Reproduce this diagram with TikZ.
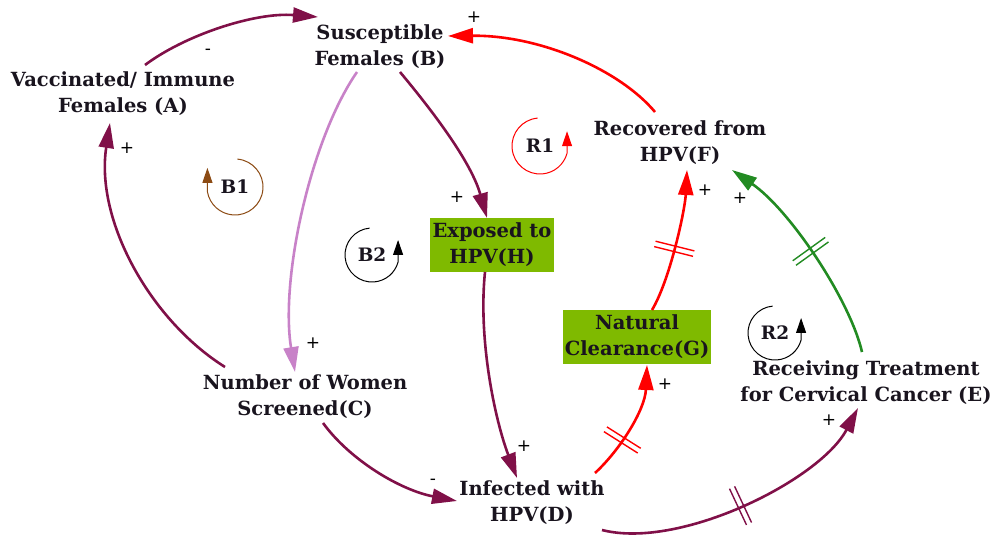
\documentclass[tikz,border=0pt]{standalone}
\usepackage{fontspec}
\setmainfont{DejaVu Serif}
\newfontfamily\plusfont{DejaVu Sans}
\usetikzlibrary{arrows.meta,decorations.markings}
\definecolor{maroon}{RGB}{128,16,72}
\definecolor{lilac}{RGB}{200,130,200}
\definecolor{redc}{RGB}{255,0,0}
\definecolor{greenc}{RGB}{34,139,34}
\definecolor{boxgreen}{RGB}{127,186,0}
\definecolor{brownc}{RGB}{140,75,20}
\definecolor{textc}{RGB}{25,20,30}
\begin{document}
\begin{tikzpicture}[x=1pt,y=1pt,
  var/.style={align=center, text=textc, font=\bfseries\fontsize{19.5}{26}\selectfont, inner sep=0pt},
  box/.style={var, fill=boxgreen, minimum height=54pt},
  pol/.style={font=\plusfont\fontsize{17}{17}\selectfont, inner sep=0pt},
  looplbl/.style={text=textc, font=\bfseries\fontsize{18.5}{18.5}\selectfont, inner sep=0pt},
  conn/.style={line width=2.6pt, -{Triangle[length=25pt,width=15pt]}},
  loopar/.style={line width=1pt, -{Triangle[length=15pt,width=10pt]}},
  hatch/.style 2 args={postaction={decorate,decoration={markings,
     mark=at position #1 with {\draw[-,#2,line width=1.4pt] (-2.8pt,-20pt)--(-2.8pt,20pt) (2.8pt,-20pt)--(2.8pt,20pt);}}}}
]
\useasboundingbox (0,0) rectangle (990,-540);

% variables
\node[var] (A) at (123,-94) {Vaccinated/ Immune\\Females (A)};
\node[var] (B) at (380,-47) {Susceptible\\Females (B)};
\node[var] (C) at (305,-397) {Number of Women\\Screened(C)};
\node[var] (D) at (532,-503) {Infected with\\HPV(D)};
\node[var] (E) at (866,-383) {Receiving Treatment\\for Cervical Cancer (E)};
\node[var] (F) at (680,-143) {Recovered from\\HPV(F)};
\node[box, minimum width=124pt] (H) at (492,-245) {Exposed to\\HPV(H)};
\node[box, minimum width=148pt] (G) at (637,-337) {Natural\\Clearance(G)};

% connectors
\draw[conn, maroon] ([shift={(22,29)}]A.center) .. controls (185,-35) and (255,-12) .. ([shift={(-62,30)}]B.center);
\draw[conn, redc] ([shift={(-25,31)}]F.center) .. controls (620,-70) and (540,-35) .. ([shift={(68,11)}]B.center);
\draw[conn, maroon] ([shift={(20,-25)}]B.center) .. controls (440,-120) and (472,-165) .. ([shift={(-5,27)}]H.center);
\draw[conn, lilac] ([shift={(-23,-25)}]B.center) .. controls (310,-140) and (280,-280) .. ([shift={(-10,25)}]C.center);
\draw[conn, maroon] ([shift={(-80,30)}]C.center) .. controls (150,-320) and (95,-220) .. ([shift={(-13,-29)}]A.center);
\draw[conn, maroon] ([shift={(-7,-27)}]H.center) .. controls (478,-340) and (495,-420) .. ([shift={(-15,25)}]D.center);
\draw[conn, maroon] ([shift={(18,-26)}]C.center) .. controls (350,-460) and (400,-490) .. ([shift={(-75,2)}]D.center);
\draw[conn, redc, hatch={0.35}{redc}] ([shift={(63,30)}]D.center) .. controls (620,-450) and (645,-410) .. ([shift={(10,-28)}]G.center);
\draw[conn, redc, hatch={0.45}{redc}] ([shift={(15,27)}]G.center) .. controls (670,-280) and (685,-210) .. ([shift={(7,-27)}]F.center);
\draw[conn, greenc, hatch={0.5}{greenc}] ([shift={(-4,31)}]E.center) .. controls (850,-300) and (790,-210) .. ([shift={(52,-27)}]F.center);
\draw[conn, maroon, hatch={0.48}{maroon}] ([shift={(70,-27)}]D.center) .. controls (680,-550) and (820,-480) .. ([shift={(-8,-25)}]E.center);

% polarities
\node[pol] (p1) at (208,-52) {-};
\node[pol] (p2) at (474,-17) {+};
\node[pol] (p3) at (457,-197) {+};
\node[pol] (p4) at (313,-343) {+};
\node[pol] (p5) at (127,-148) {+};
\node[pol] (p6) at (524,-446) {+};
\node[pol] (p7) at (433,-482) {-};
\node[pol] (p8) at (665,-384) {+};
\node[pol] (p9) at (705,-190) {+};
\node[pol] (p10) at (740,-198) {+};
\node[pol] (p11) at (829,-420) {+};

% loops
\node[looplbl] (B1) at (235,-187) {B1};
\draw[loopar, brownc] ([shift={(85:28)}]B1.center) arc[start angle=85, end angle=-170, radius=28] -- ++(0,24);
\node[looplbl] (B2) at (372,-255) {B2};
\draw[loopar, black] ([shift={(95:27)}]B2.center) arc[start angle=95, end angle=345, radius=27] -- ++(0,22);
\node[looplbl] (R1) at (540,-146) {R1};
\draw[loopar, redc] ([shift={(95:28)}]R1.center) arc[start angle=95, end angle=345, radius=28] -- ++(0,22);
\node[looplbl] (R2) at (775,-333) {R2};
\draw[loopar, black] ([shift={(95:27)}]R2.center) arc[start angle=95, end angle=345, radius=27] -- ++(0,22);
\end{tikzpicture}
\end{document}
